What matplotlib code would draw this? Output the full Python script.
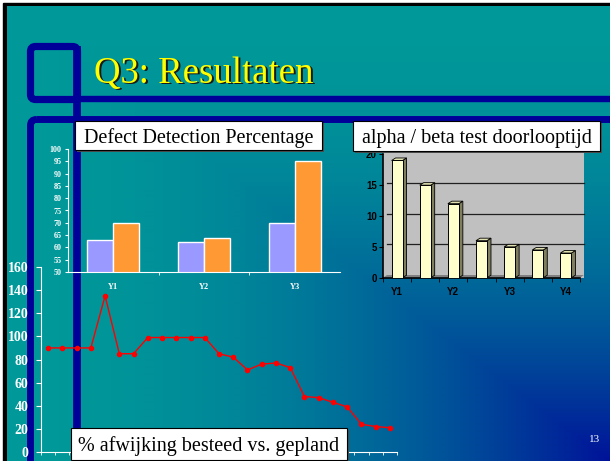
import numpy as np
import matplotlib
matplotlib.use("Agg")
import matplotlib.pyplot as plt
from matplotlib.patches import Rectangle, FancyBboxPatch, Polygon
from matplotlib import transforms

# data: Defect Detection Percentage
defect_years = ["Y1", "Y2", "Y3"]
defect_a = [63, 62, 70]
defect_b = [70, 64, 95]

# data: alpha / beta test doorlooptijd
doorloop_labels = ["Y1", "", "Y2", "", "Y3", "", "Y4"]
doorloop = [19, 15, 12, 6, 5, 4.5, 4]

# data: % afwijking besteed vs. gepland
afwijking = [90, 90, 90, 90, 135, 85, 85, 99, 99, 99, 99, 99, 85, 82, 71,
             76, 77, 73, 48, 47, 43, 39, 24, 22, 21]

W, H = 610, 461
SERIF = "Liberation Serif"
SANS = "Liberation Sans"
NAVY = "#000099"

fig = plt.figure(figsize=(6.1, 4.61), dpi=100)
fig.patch.set_facecolor("white")


def px_axes(x0, y0, x1, y1, **kw):
    # axes placed by pixel box (top-left origin)
    return fig.add_axes([x0 / W, 1 - y1 / H, (x1 - x0) / W, (y1 - y0) / H], **kw)


# --- slide background ---
bg = px_axes(0, 0, W, H, zorder=0)
bg.add_patch(Rectangle((3, 3), W, H, color="black", zorder=0))
yy, xx = np.mgrid[0:H - 7, 0:W - 7]
t = np.minimum(xx / (W - 7), yy / (H - 7)) ** 2
c0 = np.array([0, 153, 153]) / 255
c1 = np.array([0, 18, 153]) / 255
img = c0 + (c1 - c0) * t[..., None]
bg.imshow(img, extent=(7, W, H, 7), interpolation="bilinear", aspect="auto", zorder=0.5)
bg.set_xlim(0, W)
bg.set_ylim(H, 0)
bg.axis("off")

# navy decorations
bg.add_patch(FancyBboxPatch((30.5, 46.5), 47, 53, boxstyle="round,pad=0,rounding_size=5",
                            fill=False, ec=NAVY, lw=5.2))
bg.plot([77, 77], [46.5, H], color=NAVY, lw=5.6, solid_capstyle="butt")
bg.plot([77, W], [99, 99], color=NAVY, lw=4.6, solid_capstyle="butt")
bg.add_patch(FancyBboxPatch((30.5, 119.5), 700, 500, boxstyle="round,pad=0,rounding_size=6",
                            fill=False, ec=NAVY, lw=5.0))

# title with shadow
bg.text(95.5, 84.5, "Q3: Resultaten", color="#1a1a1a", fontsize=26.5, family=SERIF, va="baseline")
bg.text(94, 83, "Q3: Resultaten", color="#FFFF00", fontsize=26.5, family=SERIF, va="baseline")
bg.text(595, 439, "13", color="white", fontsize=8, family=SERIF, ha="center", va="center")

# gray wall + floor of the 3D chart
bg.add_patch(Rectangle((383, 151.5), 201, 126, fc="#C0C0C0", ec="none"))
bg.add_patch(Polygon([(383, 277.7), (580, 277.7), (584, 275), (387, 275)], fc="#808080", ec="none"))


def bold_labels(ax, family):
    for lbl in ax.get_xticklabels() + ax.get_yticklabels():
        lbl.set_fontfamily(family)
        lbl.set_fontweight("bold")


# --- chart 1: Defect Detection Percentage ---
ax1 = px_axes(68, 149, 340, 272, zorder=2)
ax1.patch.set_alpha(0)
x = np.arange(len(defect_years))
bw = 0.287
ax1.bar(x - bw / 2, defect_a, width=bw, color="#9999FF", edgecolor="white", lw=1)
ax1.bar(x + bw / 2, defect_b, width=bw, color="#FF9933", edgecolor="white", lw=1)
ax1.set_xlim(-0.5, 2.5)
ax1.set_ylim(50, 100)
ax1.set_yticks(range(50, 101, 5))
ax1.set_xticks(x, defect_years)
ax1.set_xticks([0.5, 1.5], minor=True)
ax1.tick_params(axis="x", which="major", length=0, pad=8, labelcolor="white", labelsize=6)
ax1.tick_params(axis="x", which="minor", length=2, color="white")
ax1.tick_params(axis="y", length=2.5, color="white", labelcolor="white", labelsize=5.8, pad=2)
for s in ["top", "right"]:
    ax1.spines[s].set_visible(False)
for s in ["left", "bottom"]:
    ax1.spines[s].set_color("white")
bold_labels(ax1, SERIF)

# --- chart 2: alpha / beta test doorlooptijd ---
ax2 = px_axes(383, 154.3, 580, 277.7, zorder=2)
ax2.patch.set_alpha(0)
xs = np.arange(len(doorloop))
ax2.set_xlim(-0.5, 6.5)
ax2.set_ylim(0, 20)
off = transforms.offset_copy(ax2.transData, fig=fig, x=4, y=2.5, units="dots")
for v in [5, 10, 15]:
    ax2.plot([-0.5, 6.5], [v, v], transform=off, color="#202020", lw=0.9, zorder=1, clip_on=False)
bw2, dx, dy = 0.39, 0.142, 0.405
for xi, v in zip(xs, doorloop):
    x0, x1 = xi - bw2 / 2, xi + bw2 / 2
    ax2.add_patch(Polygon([(x1, 0), (x1 + dx, dy), (x1 + dx, v + dy), (x1, v)],
                          fc="#7F7F60", ec="black", lw=0.6, zorder=3))
    ax2.add_patch(Polygon([(x0, v), (x0 + dx, v + dy), (x1 + dx, v + dy), (x1, v)],
                          fc="#E0E0B0", ec="black", lw=0.6, zorder=3))
    ax2.add_patch(Rectangle((x0, 0), bw2, v, fc="#FFFFCC", ec="black", lw=0.7, zorder=4))
ax2.set_yticks([0, 5, 10, 15, 20])
ax2.set_xticks(xs, doorloop_labels)
ax2.set_xticks(np.arange(-0.5, 7, 1), minor=True)
ax2.tick_params(axis="x", which="major", length=0, pad=7, labelsize=7)
ax2.tick_params(axis="x", which="minor", length=3, color="black")
ax2.tick_params(axis="y", length=3, color="black", labelsize=7, pad=1.5)
for s in ["top", "right"]:
    ax2.spines[s].set_visible(False)
for s in ["left", "bottom"]:
    ax2.spines[s].set_linewidth(1.2)
bold_labels(ax2, SANS)

# --- chart 3: % afwijking besteed vs. gepland ---
ax3 = px_axes(41, 267, 397, 452, zorder=2)
ax3.patch.set_alpha(0)
xs3 = np.arange(len(afwijking)) + 0.5
ax3.plot(xs3, afwijking, color="#FF0000", lw=1, marker="o", ms=3)
ax3.set_xlim(0, len(afwijking))
ax3.set_ylim(0, 160)
ax3.set_yticks(range(0, 161, 20))
ax3.set_xticks([])
ax3.set_xticks(np.arange(0, len(afwijking) + 1), minor=True)
ax3.tick_params(axis="x", which="minor", length=2.5, color="white")
ax3.tick_params(axis="y", length=3.5, color="white", labelcolor="white", labelsize=10, pad=5.5)
for s in ["top", "right"]:
    ax3.spines[s].set_visible(False)
for s in ["left", "bottom"]:
    ax3.spines[s].set_color("white")
bold_labels(ax3, SERIF)

# --- title boxes on top ---
top = px_axes(0, 0, W, H, zorder=20)
top.set_xlim(0, W)
top.set_ylim(H, 0)
top.axis("off")


def label_box(x0, y0, x1, y1, base, text, fs):
    top.add_patch(Rectangle((x0 + 2, y0 + 2), x1 - x0, y1 - y0, fc="#4d4d4d", ec="none"))
    top.add_patch(Rectangle((x0, y0), x1 - x0, y1 - y0, fc="white", ec="black", lw=0.8))
    top.text((x0 + x1) / 2, base, text, ha="center", va="baseline", fontsize=fs,
             family=SERIF, color="black")


label_box(75, 121, 322, 150, 143, "Defect Detection Percentage", 14.5)
label_box(353, 121, 600, 151, 143, "alpha / beta test doorlooptijd", 14.5)
label_box(71, 428, 347, 460, 451, "% afwijking besteed vs. gepland", 14.5)

fig.savefig("out.png", dpi=100)
